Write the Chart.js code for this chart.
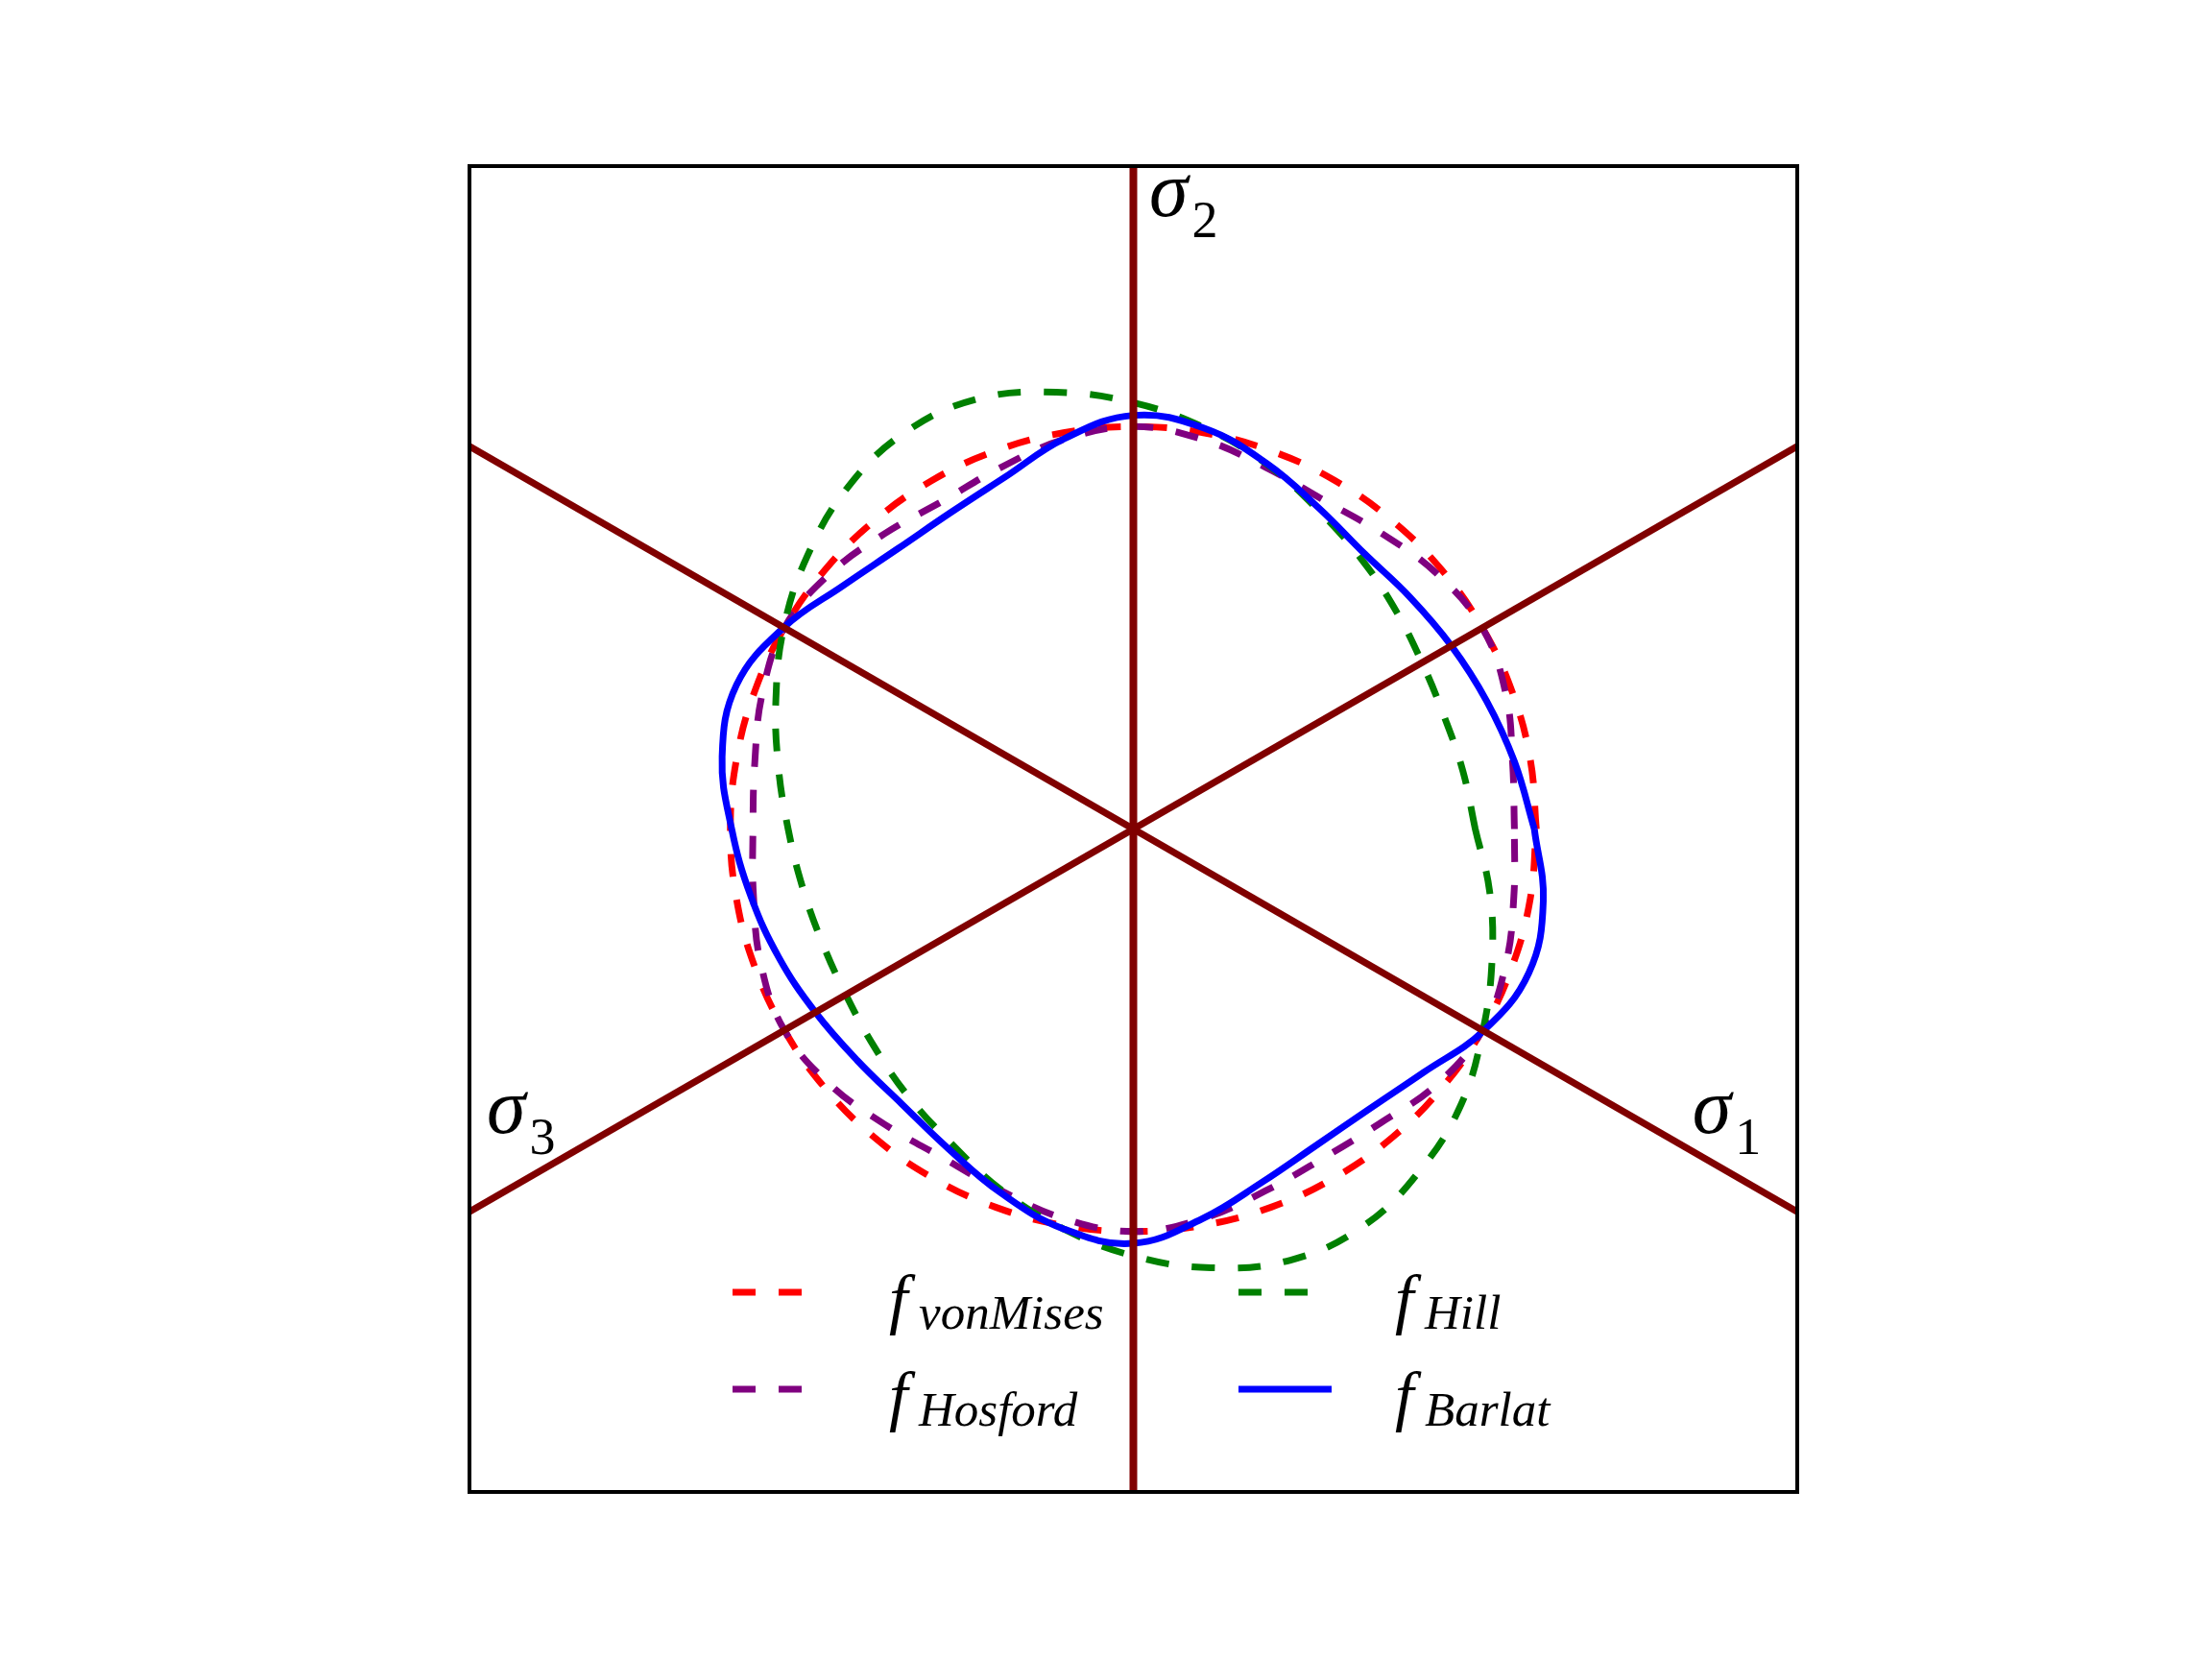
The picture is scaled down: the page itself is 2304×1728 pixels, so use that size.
<!DOCTYPE html>
<html>
<head>
<meta charset="utf-8">
<script src="https://cdn.jsdelivr.net/npm/chart.js@4"></script>
<style>
  html, body { margin: 0; padding: 0; background: #fff; }
  canvas { display: block; }
</style>
</head>
<body>
<canvas id="chart" width="2304" height="1728" style="width:2304px;height:1728px"></canvas>
<script>
// yield loci on the pi-plane, read as radius (box half-width = 1) every 10 degrees
const angles = [0, 10, 20, 30, 40, 50, 60, 70, 80, 90, 100, 110, 120, 130, 140, 150, 160, 170,
                180, 190, 200, 210, 220, 230, 240, 250, 260, 270, 280, 290, 300, 310, 320, 330, 340, 350];

const vonMises = [0.607, 0.607, 0.607, 0.607, 0.607, 0.607, 0.607, 0.607, 0.607, 0.607, 0.607, 0.607,
                  0.607, 0.607, 0.607, 0.607, 0.607, 0.607, 0.607, 0.607, 0.607, 0.607, 0.607, 0.607,
                  0.607, 0.607, 0.607, 0.607, 0.607, 0.607, 0.607, 0.607, 0.607, 0.607, 0.607, 0.607];

const hosford = [0.574, 0.580, 0.597, 0.607, 0.598, 0.582, 0.573, 0.581, 0.597, 0.607, 0.597, 0.581,
                 0.572, 0.582, 0.598, 0.607, 0.595, 0.579, 0.573, 0.581, 0.597, 0.607, 0.598, 0.582,
                 0.573, 0.581, 0.597, 0.607, 0.597, 0.581, 0.573, 0.579, 0.598, 0.607, 0.597, 0.582];

const hill = [0.515, 0.504, 0.498, 0.502, 0.515, 0.533, 0.556, 0.586, 0.615, 0.643, 0.669, 0.690,
              0.690, 0.671, 0.641, 0.608, 0.573, 0.543, 0.520, 0.506, 0.499, 0.500, 0.510, 0.527,
              0.548, 0.580, 0.612, 0.644, 0.672, 0.692, 0.692, 0.672, 0.645, 0.608, 0.575, 0.545];

const barlat = [0.604, 0.583, 0.566, 0.553, 0.544, 0.542, 0.559, 0.587, 0.614, 0.624, 0.598, 0.565,
                0.551, 0.552, 0.571, 0.608, 0.636, 0.629, 0.605, 0.585, 0.568, 0.553, 0.543, 0.542,
                0.557, 0.584, 0.612, 0.625, 0.597, 0.567, 0.551, 0.552, 0.571, 0.609, 0.634, 0.627];

const seriesNames  = ["vonMises", "Hosford", "Hill", "Barlat"];
const seriesColors = ["rgb(255,0,0)", "rgb(128,0,128)", "rgb(0,128,0)", "rgb(0,0,255)"];
const seriesDashed = [true, true, true, false];

// principal stress axes projected on the plane
const axisAngles = [90, -30, 210];
const axisLabels = ["2", "1", "3"];
const axisColor = "rgb(128,0,0)";

const serif = '"Liberation Serif", "DejaVu Serif", serif';

const rad = d => d * Math.PI / 180;

const toPoints = radii => {
    const pts = angles.map((a, i) => ({ x: radii[i] * Math.cos(rad(a)), y: radii[i] * Math.sin(rad(a)) }));
    pts.push(pts[0]);
    return pts;
};

// line through the centre, clipped to the square box
const axisLine = deg => {
    const c = Math.cos(rad(deg)), s = Math.sin(rad(deg));
    const t = 1 / Math.max(Math.abs(c), Math.abs(s));
    return [{ x: -t * c, y: -t * s }, { x: t * c, y: t * s }];
};

const curves = [vonMises, hosford, hill, barlat];

const datasets = [];
axisAngles.forEach((a, i) => {
    datasets.push({
        label: "axis" + axisLabels[i],
        data: axisLine(a),
        borderColor: axisColor,
        borderWidth: a === 90 ? 8 : 7,
        tension: 0,
        pointRadius: 0,
        order: 0,
    });
});
curves.forEach((radii, i) => {
    datasets.push({
        label: "f_" + seriesNames[i],
        data: toPoints(radii),
        borderColor: seriesColors[i],
        borderWidth: 7,
        borderDash: seriesDashed[i] ? [24, 24] : [],
        tension: 0.4,
        pointRadius: 0,
        fill: false,
        order: 4 - i,
    });
});

const overlay = {
    id: "overlay",
    afterDraw(chart) {
        const { ctx, chartArea: a, scales: { x, y } } = chart;
        ctx.save();

        // frame
        ctx.strokeStyle = "#000";
        ctx.lineWidth = 4;
        ctx.strokeRect(a.left, a.top, a.right - a.left, a.bottom - a.top);

        // sigma labels
        const labelPos = { "2": [0.024, 0.925], "1": [0.842, -0.458], "3": [-0.974, -0.458] };
        ctx.fillStyle = "#000";
        ctx.textBaseline = "alphabetic";
        axisLabels.forEach(lab => {
            const px = x.getPixelForValue(labelPos[lab][0]);
            const py = y.getPixelForValue(labelPos[lab][1]);
            ctx.font = "italic 82px " + serif;
            ctx.fillText("\u03c3", px, py);
            const w = ctx.measureText("\u03c3").width;
            ctx.font = "54px " + serif;
            ctx.fillText(lab, px + w + 4, py + 22);
        });

        // legend, two columns
        const colX = [763, 1290];
        const rowY = [1346, 1447];
        seriesNames.forEach((name, i) => {
            const col = Math.floor(i / 2), row = i % 2;
            const hx = colX[col], hy = rowY[row];
            ctx.strokeStyle = seriesColors[i];
            ctx.lineWidth = 7;
            ctx.setLineDash(seriesDashed[i] ? [24, 24] : []);
            ctx.beginPath();
            ctx.moveTo(hx, hy);
            ctx.lineTo(hx + (seriesDashed[i] ? 94 : 97), hy);
            ctx.stroke();
            ctx.setLineDash([]);

            const tx = hx + 163;
            ctx.font = "italic 70px " + serif;
            ctx.fillText("f", tx, hy + 30);
            ctx.font = "italic 51px " + serif;
            ctx.fillText(name, tx + 31, hy + 38);
        });

        ctx.restore();
    }
};

new Chart(document.getElementById("chart"), {
    type: "line",
    data: { datasets },
    options: {
        responsive: false,
        animation: false,
        layout: { padding: { left: 489, right: 432, top: 173, bottom: 174 } },
        scales: {
            x: { type: "linear", min: -1, max: 1, display: false },
            y: { type: "linear", min: -1, max: 1, display: false }
        },
        plugins: { legend: { display: false }, tooltip: { enabled: false } }
    },
    plugins: [overlay]
});
</script>
</body>
</html>
